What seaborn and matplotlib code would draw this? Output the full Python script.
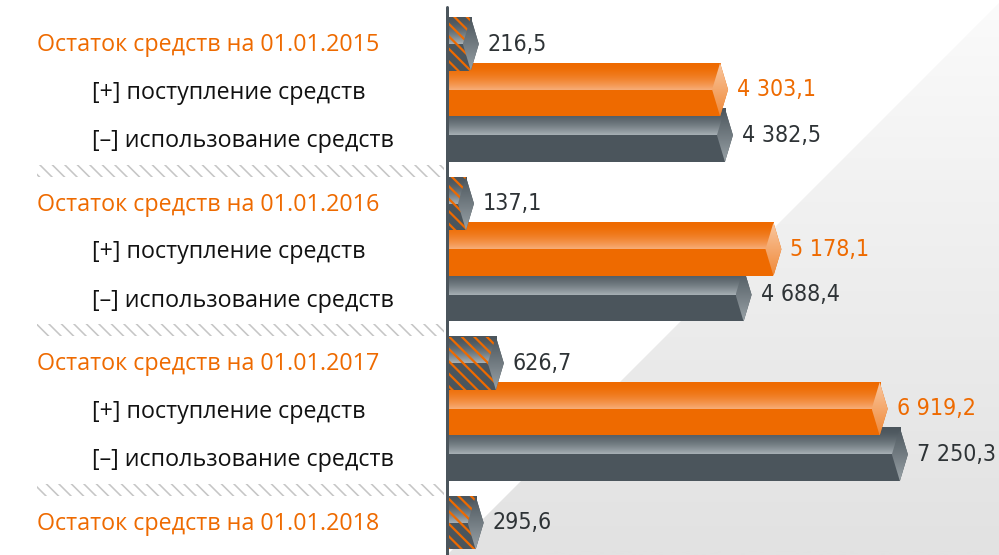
"""
Движение денежных средств: остаток, поступление и использование (2015-2018)
"""

import os
import numpy as np
import pandas as pd
import matplotlib
matplotlib.use('Agg')
import matplotlib.pyplot as plt
import matplotlib.transforms as mtransforms
from matplotlib import font_manager
from matplotlib.font_manager import FontProperties
from matplotlib.patches import Polygon, Rectangle
from matplotlib.colors import to_rgba
import seaborn as sns

# Данные
years = ['2015', '2016', '2017', '2018']
balance = [216.5, 137.1, 626.7, 295.6]
income = [4303.1, 5178.1, 6919.2]
expense = [4382.5, 4688.4, 7250.3]

balance_labels = ['Остаток средств на 01.01.' + y for y in years]
income_label = '[+] поступление средств'
expense_label = '[–] использование средств'

# Позиции строк: по три строки в группе, между группами полстроки
GROUP_STEP = 3.5
pos_balance = [g * GROUP_STEP for g in range(len(balance))]
pos_income = [g * GROUP_STEP + 1 for g in range(len(income))]
pos_expense = [g * GROUP_STEP + 2 for g in range(len(expense))]

df_balance = pd.DataFrame({'pos': pos_balance, 'value': balance})
df_income = pd.DataFrame({'pos': pos_income, 'value': income})
df_expense = pd.DataFrame({'pos': pos_expense, 'value': expense})

# Цвета
ORANGE = '#ee6a00'
ORANGE_LIGHT = '#f7ad78'
GRAY = '#4b555c'
GRAY_LIGHT = '#a6afb4'
TEXT_DARK = '#2e3336'
SEP_COLOR = '#c6c6c6'

# Геометрия (в пикселях картинки)
DPI = 75
W_PX, H_PX = 999, 555
PX_PER_UNIT = 0.061
ZERO_PX = 457.6
ROW_PX = 45.6
FIRST_ROW_PX = 44
BAR_H = 1.17


def pt(px):
    return px * 72 / DPI


def px2x(p):
    return (p - ZERO_PX) / PX_PER_UNIT


TIP = 8 / PX_PER_UNIT
GAP = 9 / PX_PER_UNIT
LEAD = px2x(448.5)


def vgrad(c_top, c_bot, n=64, gamma=1.0):
    a = np.array(to_rgba(c_top))
    b = np.array(to_rgba(c_bot))
    t = np.linspace(0, 1, n) ** gamma
    return (a[None, :] * (1 - t[:, None]) + b[None, :] * t[:, None])[:, None, :]


def fmt(v):
    return f'{v:,.1f}'.replace(',', ' ').replace('.', ',')


sns.set_style('white')
plt.rcParams['font.family'] = ['Open Sans', 'DejaVu Sans']

# узкий шрифт для чисел: ищем файл Condensed/Narrow
narrow = sorted(f.fname for f in font_manager.fontManager.ttflist
                if any(k in os.path.basename(f.fname) for k in ('Condensed', 'Narrow'))
                and not any(k in os.path.basename(f.fname)
                            for k in ('Bold', 'Italic', 'Oblique', 'Light', 'Thin')))
if narrow:
    VALUE_PROP = FontProperties(fname=narrow[0])
    VALUE_PX = 23
else:
    VALUE_PROP = FontProperties(family='Roboto')
    VALUE_PX = 23

fig = plt.figure(figsize=(W_PX / DPI, H_PX / DPI), dpi=DPI)

# Фон: светло-серый треугольник справа снизу
bg = fig.add_axes([0, 0, 1, 1], zorder=0)
bg.set_xlim(0, W_PX)
bg.set_ylim(H_PX, 0)
bg.axis('off')
tri = Polygon([(W_PX, 3), (W_PX, H_PX), (447, H_PX)], closed=True,
              facecolor='none', lw=0)
bg.add_patch(tri)
bg_im = bg.imshow(vgrad('#fbfbfb', '#e2e2e2', gamma=0.9), extent=(0, W_PX, H_PX, 0),
                  aspect='auto', interpolation='bilinear')
bg_im.set_clip_path(tri)
bg.set_xlim(0, W_PX)
bg.set_ylim(H_PX, 0)

ax = fig.add_axes([0, 0, 1, 1], zorder=1)
ax.patch.set_alpha(0)


def draw_series(df, color, light, tip_top, tip_bot, z, label_color, hatch=False):
    n0 = len(ax.patches)
    step = np.diff(np.sort(df['pos'].values)).min()
    sns.barplot(data=df, x='value', y='pos', orient='h', native_scale=True,
                color=color, saturation=1, width=BAR_H / step, errorbar=None,
                ax=ax, linewidth=0)
    for p in list(ax.patches[n0:]):
        v = p.get_width()
        top = p.get_y()
        h = p.get_height()
        bot = top + h
        mid = top + h / 2
        x1 = v
        p.set_x(LEAD)
        p.set_width(x1 - LEAD)
        p.set_zorder(z)
        # верхняя половина с градиентом
        ax.imshow(vgrad(color, light, gamma=1.8), extent=(LEAD, x1, mid, top),
                  aspect='auto', interpolation='bilinear', zorder=z + 0.01)
        if hatch:
            with plt.rc_context({'hatch.linewidth': pt(2.2)}):
                hp = Rectangle((LEAD, top), x1 - LEAD, h, facecolor='none',
                               edgecolor=ORANGE, lw=0, hatch='\\\\', zorder=z + 0.015)
            if hasattr(hp, 'set_hatch_linewidth'):
                hp.set_hatch_linewidth(pt(2.2))
            ax.add_patch(hp)
        # наконечник
        ax.add_patch(Polygon([(x1, top), (x1 + TIP, mid), (x1, bot)], closed=True,
                             facecolor=color, lw=0, zorder=z))
        diamond = Polygon([(x1, top), (x1 - TIP, mid), (x1, bot), (x1 + TIP, mid)],
                          closed=True, facecolor='none', lw=0, zorder=z)
        ax.add_patch(diamond)
        im = ax.imshow(vgrad(tip_top, tip_bot), extent=(x1 - TIP, x1 + TIP, bot, top),
                       aspect='auto', interpolation='bilinear', zorder=z + 0.02)
        im.set_clip_path(diamond)
        ax.text(x1 + TIP + GAP, mid, fmt(v), color=label_color, fontsize=pt(VALUE_PX),
                va='center', ha='left', zorder=6, fontproperties=VALUE_PROP)


draw_series(df_expense, GRAY, GRAY_LIGHT, '#4b555c', '#98a1a6', 2, TEXT_DARK)
draw_series(df_income, ORANGE, ORANGE_LIGHT, '#f9c7a0', '#f08a3a', 3, ORANGE)
draw_series(df_balance, GRAY, GRAY_LIGHT, '#4b555c', '#98a1a6', 4, TEXT_DARK, hatch=True)

# Вертикальная ось
ax.axvline(px2x(446.5), ymin=0, ymax=1 - 7 / H_PX, color=GRAY, lw=pt(3), zorder=5)

# Подписи слева
LABEL_PX = 23.3
trans = mtransforms.blended_transform_factory(fig.transFigure, ax.transData)
for g, lab in enumerate(balance_labels):
    ax.text(37 / W_PX, g * GROUP_STEP + 0.02, lab, transform=trans, color=ORANGE,
            fontsize=pt(LABEL_PX), va='center', ha='left')
for g in range(len(income)):
    ax.text(92 / W_PX, g * GROUP_STEP + 1.07, income_label, transform=trans,
            color='#111111', fontsize=pt(LABEL_PX), va='center', ha='left')
    ax.text(92 / W_PX, g * GROUP_STEP + 2.13, expense_label, transform=trans,
            color='#111111', fontsize=pt(LABEL_PX), va='center', ha='left')

# Разделители между группами
for g in range(len(years) - 1):
    with plt.rc_context({'hatch.linewidth': pt(1.6)}):
        sep = Rectangle((37 / W_PX, g * GROUP_STEP + 2.78 - 0.13), (444 - 37) / W_PX, 0.26,
                        transform=trans, facecolor='none', edgecolor=SEP_COLOR, lw=0,
                        hatch='\\\\', zorder=1, clip_on=False)
    if hasattr(sep, 'set_hatch_linewidth'):
        sep.set_hatch_linewidth(pt(1.6))
    ax.add_patch(sep)

ax.set_xlim(px2x(0), px2x(W_PX))
ax.set_ylim((H_PX - FIRST_ROW_PX) / ROW_PX, -FIRST_ROW_PX / ROW_PX)
ax.axis('off')

fig.savefig('out.png', dpi=DPI)
